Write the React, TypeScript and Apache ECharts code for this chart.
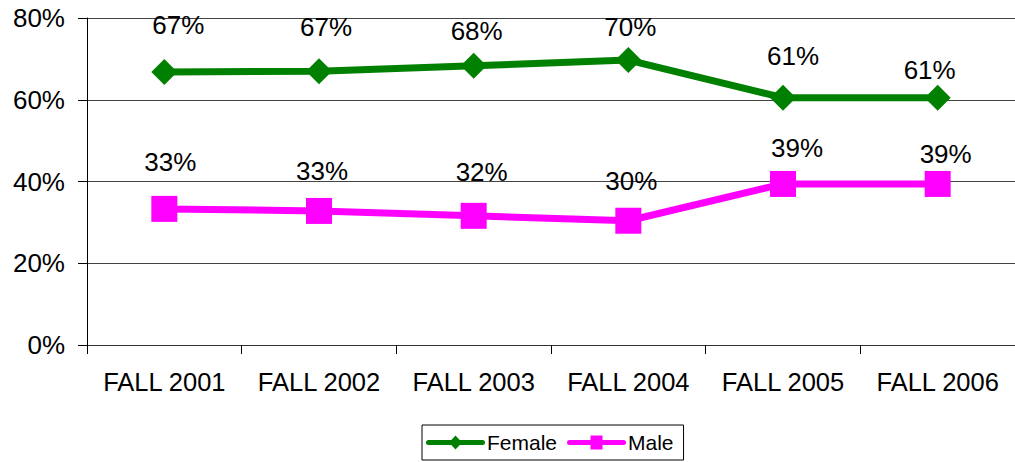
import React, { useEffect, useRef } from "react";
import * as echarts from "echarts";

const categories = ["FALL 2001", "FALL 2002", "FALL 2003", "FALL 2004", "FALL 2005", "FALL 2006"];
const femaleValues = [66.8, 67.0, 68.3, 69.7, 60.5, 60.5];
const maleValues = [33.3, 32.8, 31.6, 30.4, 39.4, 39.4];
const femaleLabels = ["67%", "67%", "68%", "70%", "61%", "61%"];
const maleLabels = ["33%", "33%", "32%", "30%", "39%", "39%"];
const yTicks = [0, 20, 40, 60, 80];

// label offsets [dx, dy] relative to "top" position (style only)
const femaleLabelOffsets = [[14, -11], [7, -8], [3, 1], [2, 3], [10, -6], [-8, 8]];
const maleLabelOffsets = [[6, -10.5], [3, -3.5], [8, -7.5], [3, -3.5], [14, 0], [8, 6]];

const FONT = "'Liberation Sans', Arial, sans-serif";

const BAR = "M2.5 5.5 H56.5 A2.5 2.5 0 0 1 56.5 10.5 H2.5 A2.5 2.5 0 0 1 2.5 5.5 Z";
const femaleIcon = "path://" + BAR + " M29.5 1 L36 8 L29.5 15 L23 8 Z";
const maleIcon = "path://" + BAR + " M23.5 1 H35.5 V15 H23.5 Z";

export default function App() {
  const ref = useRef<HTMLDivElement>(null);
  useEffect(() => {
    if (!ref.current) return;
    const chart = echarts.init(ref.current, null, { renderer: "svg" });
    const mk = (vals: number[], labels: string[], offs: number[][]) =>
      vals.map((v, i) => ({
        value: v,
        label: { formatter: labels[i], offset: offs[i] },
      }));
    chart.setOption({
      animation: false,
      backgroundColor: "#ffffff",
      textStyle: { fontFamily: FONT },
      grid: { left: 87, top: 18, bottom: 117, right: -8, containLabel: false },
      legend: {
        left: 422,
        top: 425,
        padding: [7, 10, 7, 4],
        borderColor: "#000",
        borderWidth: 1,
        itemWidth: 59,
        itemHeight: 14,
        itemGap: 10,
        textStyle: { fontSize: 21, color: "#000", fontFamily: FONT, padding: [0, 0, 0, -3] },
        data: [
          { name: "Female", icon: femaleIcon },
          { name: "Male", icon: maleIcon },
        ],
      },
      xAxis: {
        type: "category",
        data: categories,
        boundaryGap: true,
        axisLine: { lineStyle: { color: "#333", width: 1 } },
        axisTick: { show: true, length: 9, lineStyle: { color: "#000" }, alignWithLabel: false, interval: 0 },
        axisLabel: { fontSize: 25.5, color: "#000", margin: 24, fontFamily: FONT, interval: 0 },
        splitLine: { show: false },
      },
      yAxis: {
        type: "value",
        min: 0,
        max: 80,
        interval: 20,
        axisLine: { show: true, lineStyle: { color: "#000", width: 1 } },
        axisTick: { show: true, length: 9, lineStyle: { color: "#000" } },
        axisLabel: {
          fontSize: 26,
          color: "#000",
          margin: 22,
          fontFamily: FONT,
          formatter: (v: number) => (yTicks.includes(v) ? v + "%" : ""),
        },
        splitLine: { show: true, lineStyle: { color: "#444", width: 1 } },
      },
      series: [
        {
          name: "Female",
          type: "line",
          data: mk(femaleValues, femaleLabels, femaleLabelOffsets),
          symbol: "diamond",
          symbolSize: 26,
          lineStyle: { color: "#008000", width: 7 },
          itemStyle: { color: "#008000" },
          label: { show: true, position: "top", fontSize: 26, color: "#000", fontFamily: FONT, distance: 10 },
        },
        {
          name: "Male",
          type: "line",
          data: mk(maleValues, maleLabels, maleLabelOffsets),
          symbol: "rect",
          symbolSize: 26,
          lineStyle: { color: "#FF00FF", width: 7 },
          itemStyle: { color: "#FF00FF" },
          label: { show: true, position: "top", fontSize: 26, color: "#000", fontFamily: FONT, distance: 10 },
        },
      ],
    });
    return () => chart.dispose();
  }, []);
  return (
    <div
      ref={ref}
      style={{ position: "fixed", left: 0, top: 0, width: 1015, height: 462, background: "#fff" }}
    />
  );
}
